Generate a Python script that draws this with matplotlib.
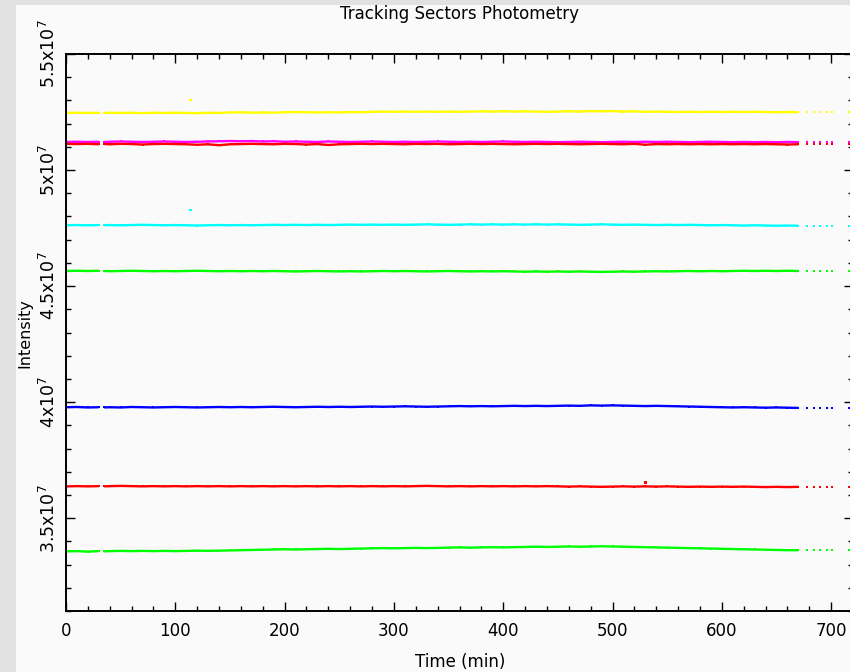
import numpy as np
import matplotlib
matplotlib.use("Agg")
import matplotlib.pyplot as plt
from matplotlib.patches import Rectangle
from matplotlib.ticker import MultipleLocator

# sample times (min): main run, short gap near 32 min, sparse tail at the end
time_min = [0, 10, 20, 30, 35] + list(range(40, 680, 10)) + [678, 684, 690, 696, 701, 716]
break_after = [30, 670, 678, 684, 690, 696, 701]

# sector intensities, in units of 1e7
sector_yellow = [
    5.246, 5.247, 5.246, 5.247, 5.246, 5.247, 5.246, 5.247, 5.245, 5.247, 5.246, 5.247, 5.246, 5.245, 5.247,
    5.246, 5.248, 5.249, 5.247, 5.248, 5.247, 5.249, 5.250, 5.249, 5.248, 5.249, 5.248, 5.250, 5.249, 5.251,
    5.252, 5.251, 5.252, 5.251, 5.252, 5.251, 5.252, 5.251, 5.252, 5.253, 5.252, 5.253, 5.252, 5.253, 5.252,
    5.251, 5.252, 5.253, 5.252, 5.254, 5.253, 5.254, 5.252, 5.253, 5.251, 5.252, 5.251, 5.250, 5.251, 5.250,
    5.251, 5.250, 5.251, 5.250, 5.251, 5.250, 5.249, 5.250, 5.249, 5.250, 5.249, 5.250, 5.251, 5.248, 5.249,
]
sector_magenta = [
    5.121, 5.122, 5.121, 5.122, 5.121, 5.122, 5.123, 5.122, 5.121, 5.122, 5.123, 5.122, 5.121, 5.122, 5.123,
    5.124, 5.125, 5.124, 5.125, 5.123, 5.124, 5.122, 5.123, 5.122, 5.121, 5.123, 5.122, 5.121, 5.122, 5.123,
    5.122, 5.121, 5.122, 5.121, 5.122, 5.123, 5.122, 5.121, 5.122, 5.121, 5.122, 5.123, 5.122, 5.121, 5.122,
    5.121, 5.120, 5.121, 5.122, 5.121, 5.120, 5.121, 5.122, 5.121, 5.122, 5.121, 5.122, 5.121, 5.120, 5.121,
    5.122, 5.121, 5.120, 5.121, 5.120, 5.121, 5.120, 5.121, 5.120, 5.121, 5.120, 5.121, 5.120, 5.121, 5.120,
]
sector_red_a = [
    5.113, 5.112, 5.113, 5.111, 5.112, 5.111, 5.113, 5.112, 5.110, 5.112, 5.113, 5.112, 5.111, 5.109, 5.111,
    5.107, 5.111, 5.112, 5.113, 5.112, 5.111, 5.113, 5.112, 5.110, 5.112, 5.108, 5.111, 5.112, 5.113, 5.112,
    5.113, 5.112, 5.111, 5.113, 5.112, 5.113, 5.111, 5.112, 5.113, 5.112, 5.113, 5.112, 5.111, 5.112, 5.113,
    5.112, 5.113, 5.112, 5.111, 5.112, 5.113, 5.112, 5.111, 5.113, 5.109, 5.112, 5.111, 5.112, 5.111, 5.112,
    5.111, 5.112, 5.111, 5.112, 5.111, 5.112, 5.111, 5.110, 5.111, 5.112, 5.111, 5.112, 5.111, 5.112, 5.111,
]
sector_cyan = [
    4.762, 4.763, 4.762, 4.763, 4.762, 4.763, 4.762, 4.763, 4.764, 4.763, 4.762, 4.763, 4.762, 4.761, 4.762,
    4.763, 4.762, 4.763, 4.762, 4.763, 4.764, 4.763, 4.764, 4.763, 4.764, 4.763, 4.764, 4.765, 4.764, 4.765,
    4.764, 4.765, 4.764, 4.765, 4.766, 4.765, 4.764, 4.765, 4.766, 4.765, 4.766, 4.765, 4.766, 4.765, 4.766,
    4.765, 4.766, 4.765, 4.764, 4.765, 4.766, 4.765, 4.764, 4.765, 4.764, 4.763, 4.764, 4.763, 4.764, 4.763,
    4.762, 4.763, 4.762, 4.761, 4.762, 4.761, 4.760, 4.761, 4.760, 4.760, 4.759, 4.760, 4.759, 4.758, 4.760,
]
sector_green_a = [
    4.565, 4.566, 4.565, 4.566, 4.565, 4.564, 4.565, 4.566, 4.565, 4.564, 4.565, 4.564, 4.565, 4.566, 4.565,
    4.564, 4.565, 4.564, 4.565, 4.564, 4.565, 4.564, 4.563, 4.564, 4.565, 4.564, 4.563, 4.564, 4.563, 4.564,
    4.565, 4.564, 4.565, 4.564, 4.563, 4.564, 4.565, 4.564, 4.563, 4.564, 4.563, 4.564, 4.563, 4.562, 4.563,
    4.562, 4.563, 4.562, 4.563, 4.562, 4.561, 4.562, 4.563, 4.562, 4.563, 4.564, 4.563, 4.564, 4.565, 4.564,
    4.565, 4.564, 4.565, 4.566, 4.565, 4.566, 4.565, 4.566, 4.565, 4.566, 4.565, 4.566, 4.565, 4.566, 4.565,
]
sector_blue = [
    3.978, 3.979, 3.977, 3.978, 3.977, 3.978, 3.977, 3.979, 3.978, 3.977, 3.978, 3.979, 3.978, 3.977, 3.978,
    3.979, 3.978, 3.979, 3.978, 3.979, 3.980, 3.979, 3.978, 3.979, 3.980, 3.979, 3.980, 3.979, 3.980, 3.981,
    3.980, 3.981, 3.982, 3.981, 3.980, 3.981, 3.982, 3.983, 3.982, 3.983, 3.982, 3.983, 3.984, 3.983, 3.984,
    3.983, 3.984, 3.985, 3.984, 3.986, 3.985, 3.986, 3.985, 3.984, 3.983, 3.984, 3.983, 3.982, 3.981, 3.980,
    3.979, 3.978, 3.977, 3.978, 3.977, 3.976, 3.977, 3.976, 3.975, 3.976, 3.975, 3.974, 3.975, 3.974, 3.976,
]
sector_red_b = [
    3.637, 3.638, 3.637, 3.638, 3.637, 3.638, 3.639, 3.638, 3.637, 3.638, 3.637, 3.638, 3.637, 3.638, 3.637,
    3.638, 3.637, 3.638, 3.637, 3.638, 3.637, 3.638, 3.637, 3.638, 3.637, 3.638, 3.637, 3.638, 3.637, 3.638,
    3.637, 3.638, 3.637, 3.638, 3.639, 3.638, 3.637, 3.638, 3.637, 3.638, 3.637, 3.638, 3.637, 3.638, 3.637,
    3.638, 3.637, 3.636, 3.637, 3.636, 3.635, 3.636, 3.637, 3.636, 3.637, 3.636, 3.637, 3.636, 3.635, 3.636,
    3.635, 3.636, 3.635, 3.636, 3.635, 3.634, 3.635, 3.634, 3.635, 3.634, 3.635, 3.634, 3.635, 3.634, 3.635,
]
sector_green_b = [
    3.357, 3.358, 3.356, 3.358, 3.357, 3.358, 3.359, 3.358, 3.359, 3.358, 3.359, 3.358, 3.359, 3.360, 3.359,
    3.360, 3.361, 3.362, 3.363, 3.364, 3.365, 3.366, 3.365, 3.366, 3.367, 3.368, 3.367, 3.368, 3.369, 3.370,
    3.371, 3.370, 3.371, 3.372, 3.371, 3.372, 3.373, 3.374, 3.373, 3.374, 3.375, 3.374, 3.375, 3.376, 3.377,
    3.376, 3.377, 3.378, 3.377, 3.378, 3.379, 3.378, 3.377, 3.376, 3.375, 3.374, 3.373, 3.372, 3.371, 3.370,
    3.369, 3.368, 3.367, 3.366, 3.365, 3.364, 3.363, 3.362, 3.362, 3.361, 3.362, 3.361, 3.362, 3.361, 3.363,
]

# isolated outlier samples
spike_time = [114, 114, 530]
spike_value = [5.302, 4.828, 3.655]
spike_color = ['#ffff00', '#00ffff', '#ff0000']

series = [
    (sector_yellow, '#ffff00'),
    (sector_magenta, '#ff00ff'),
    (sector_red_a, '#ff0000'),
    (sector_cyan, '#00ffff'),
    (sector_green_a, '#00ff00'),
    (sector_blue, '#0000ff'),
    (sector_red_b, '#ff0000'),
    (sector_green_b, '#00ff00'),
]

ytick_values = [3.5e7, 4.0e7, 4.5e7, 5.0e7, 5.5e7]
ytick_labels = [r'3.5x10$^7$', r'4x10$^7$', r'4.5x10$^7$', r'5x10$^7$', r'5.5x10$^7$']


def with_breaks(t, v):
    xs, ys = [], []
    for ti, vi in zip(t, v):
        xs.append(ti)
        ys.append(vi * 1e7)
        if ti in break_after:
            xs.append(np.nan)
            ys.append(np.nan)
    return np.array(xs, dtype=float), np.array(ys, dtype=float)


bg = '#fafafa'
fig = plt.figure(figsize=(8.5, 6.72), dpi=100, facecolor=bg)

# window frame strips
fig.patches.append(Rectangle((0, 0), 16 / 850, 1, transform=fig.transFigure,
                             facecolor='#e1e1e1', edgecolor='none', zorder=-5))
fig.patches.append(Rectangle((0, 1 - 5 / 672), 1, 5 / 672, transform=fig.transFigure,
                             facecolor='#e1e1e1', edgecolor='none', zorder=-5))

ax = fig.add_axes([66 / 850, 61 / 672, 787 / 850, 557 / 672])
ax.set_facecolor(bg)

for vals, col in series:
    x, y = with_breaks(time_min, vals)
    ax.plot(x, y, color=col, lw=1.7, marker='s', ms=1.6, mew=0, solid_capstyle='butt')

ax.scatter(spike_time, np.array(spike_value) * 1e7, c=spike_color, s=4, marker='s', linewidths=0)

ax.set_xlim(0, 720)
ax.set_ylim(3.1e7, 5.5e7)
ax.xaxis.set_major_locator(MultipleLocator(100))
ax.xaxis.set_minor_locator(MultipleLocator(20))
ax.set_yticks(ytick_values)
ax.set_yticklabels(ytick_labels, rotation=90, va='center', fontsize=12.5)
ax.yaxis.set_minor_locator(MultipleLocator(1e6))
ax.tick_params(axis='x', labelsize=12, pad=8)
ax.tick_params(axis='y', pad=5)
ax.tick_params(which='both', direction='in', top=True, right=True, width=1.0, color='black')
ax.tick_params(which='major', length=6.5)
ax.tick_params(which='minor', length=3.3)
for sp in ax.spines.values():
    sp.set_linewidth(1.4)

fig.text(459.5 / 850, 1 - 14 / 672, 'Tracking Sectors Photometry', ha='center', va='center', fontsize=12)
fig.text(460 / 850, 1 - 662 / 672, 'Time (min)', ha='center', va='center', fontsize=12)
fig.text(25 / 850, 1 - 333 / 672, 'Intensity', ha='center', va='center', rotation=90, fontsize=11.5)

fig.savefig('out.png', dpi=100, facecolor=bg)
